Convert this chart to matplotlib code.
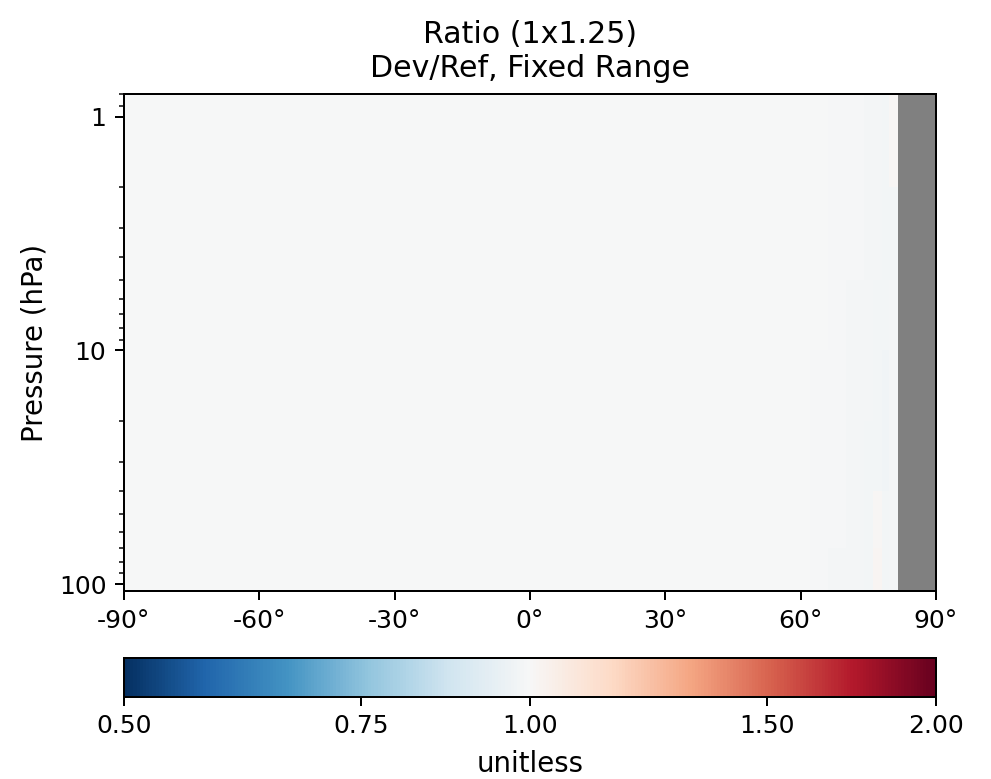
import numpy as np
import matplotlib
matplotlib.use("Agg")
import matplotlib.pyplot as plt
from matplotlib.colors import LogNorm
from matplotlib.ticker import FixedLocator, FixedFormatter, NullFormatter, LogLocator

# ---- data ----
title = "Ratio (1x1.25)\nDev/Ref, Fixed Range"
lat_edges = [-90, 54, 58, 62, 66, 70, 74, 76, 78, 79.5, 81.5, 90]
pres_edges = [0.8, 2, 5, 10, 20, 40, 70, 107]
# rows: pressure bands (top to bottom), columns: latitude bands; NaN = no data
ratio_row0 = [0.999, 0.999, 0.999, 0.999, 0.993, 0.990, 0.986, 0.985, 0.981, 1.008, np.nan]
ratio_row1 = [0.999, 0.999, 0.999, 0.998, 0.993, 0.990, 0.986, 0.984, 0.980, 0.982, np.nan]
ratio_row2 = [0.999, 0.999, 0.999, 0.995, 0.992, 0.989, 0.985, 0.981, 0.980, 0.985, np.nan]
ratio_row3 = [0.999, 0.999, 0.998, 0.994, 0.991, 0.988, 0.984, 0.980, 0.978, 0.985, np.nan]
ratio_row4 = [0.999, 0.999, 0.996, 0.993, 0.990, 0.986, 0.983, 0.980, 0.978, 0.985, np.nan]
ratio_row5 = [0.999, 0.997, 0.995, 0.993, 0.990, 0.985, 0.981, 1.010, 0.980, 0.985, np.nan]
ratio_row6 = [0.999, 0.996, 0.995, 0.992, 0.989, 0.985, 0.980, 1.015, 0.980, 0.985, np.nan]
cbar_ticks = [0.5, 0.75, 1.0, 1.5, 2.0]
cbar_labels = ["0.50", "0.75", "1.00", "1.50", "2.00"]
lat_ticks = [-90, -60, -30, 0, 30, 60, 90]
lat_labels = ["-90\u00b0", "-60\u00b0", "-30\u00b0", "0\u00b0", "30\u00b0", "60\u00b0", "90\u00b0"]
pres_ticks = [1, 10, 100]
pres_labels = ["1", "10", "100"]

ratio = np.ma.masked_invalid(np.array([ratio_row0, ratio_row1, ratio_row2, ratio_row3,
                                       ratio_row4, ratio_row5, ratio_row6]))

DPI = 180
fig = plt.figure(figsize=(991 / DPI, 779 / DPI), dpi=DPI)
ax = fig.add_axes([0.125, 0.2413, 0.8194, 0.638])
ax.set_facecolor("#808080")
norm = LogNorm(vmin=0.5, vmax=2.0)
mesh = ax.pcolormesh(lat_edges, pres_edges, ratio, cmap="RdBu_r", norm=norm, shading="flat")
ax.set_yscale("log")
ax.set_ylim(107, 0.8)
ax.set_xlim(-90, 90)
ax.set_xticks(lat_ticks)
ax.set_xticklabels(lat_labels, fontsize=10)
ax.yaxis.set_major_locator(FixedLocator(pres_ticks))
ax.yaxis.set_major_formatter(FixedFormatter(pres_labels))
ax.yaxis.set_minor_locator(LogLocator(base=10, subs=np.arange(2, 10)))
ax.yaxis.set_minor_formatter(NullFormatter())
ax.tick_params(axis="y", labelsize=10)
ax.set_ylabel("Pressure (hPa)", fontsize=11)
ax.set_title(title, fontsize=12, pad=7)

cax = fig.add_axes([0.125, 0.1053, 0.8194, 0.050])
cb = fig.colorbar(mesh, cax=cax, orientation="horizontal")
cb.set_ticks(cbar_ticks)
cb.set_ticklabels(cbar_labels)
cb.ax.minorticks_off()
cb.ax.tick_params(labelsize=10)
cb.set_label("unitless", fontsize=11, labelpad=4.5)

fig.savefig("out.png", dpi=DPI)
